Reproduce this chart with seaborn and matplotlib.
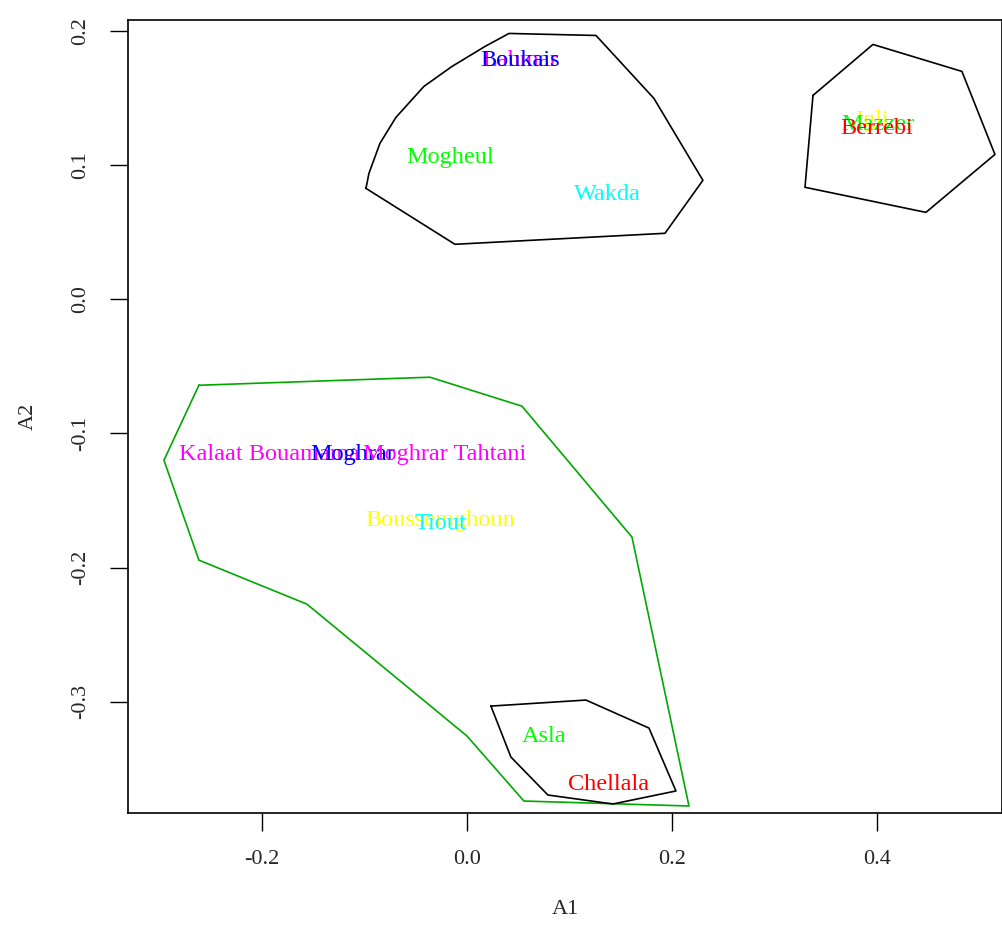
import matplotlib
matplotlib.use("Agg")
import matplotlib.pyplot as plt
import seaborn as sns
import pandas as pd

# site labels (ordination scores) and their colours
sites = ["Lahmar", "Boukais", "Mogheul", "Wakda", "Igli", "Mazzer", "Berrebi",
         "Kalaat Bouamama", "Moghrar", "Moghrar Tahtani", "Boussemghoun", "Tiout",
         "Asla", "Chellala"]
a1 = [0.052, 0.052, -0.016, 0.137, 0.395, 0.401, 0.400,
      -0.193, -0.111, -0.022, -0.026, -0.026, 0.075, 0.138]
a2 = [0.178, 0.178, 0.106, 0.078, 0.133, 0.130, 0.127,
      -0.116, -0.116, -0.116, -0.165, -0.167, -0.326, -0.362]
site_colors = ["magenta", "blue", "lime", "cyan", "yellow", "lime", "red",
               "magenta", "blue", "magenta", "yellow", "cyan", "lime", "red"]

# hull outlines
hull_top_x = [-0.0985, -0.0956, -0.0849, -0.0693, -0.0420, -0.0146, 0.0176, 0.0410,
              0.1259, 0.1824, 0.2302, 0.1932, -0.0117]
hull_top_y = [0.0827, 0.0939, 0.1162, 0.1356, 0.1587, 0.1736, 0.1885, 0.1982,
              0.1967, 0.1498, 0.0887, 0.0492, 0.0410]
hull_right_x = [0.3376, 0.3961, 0.4829, 0.5151, 0.4478, 0.3298]
hull_right_y = [0.1520, 0.1900, 0.1699, 0.1080, 0.0648, 0.0835]
hull_big_x = [-0.2615, -0.0361, 0.0537, 0.1610, 0.2166, 0.0556, 0.0,
              -0.1561, -0.2615, -0.2956]
hull_big_y = [-0.0641, -0.0581, -0.0797, -0.1773, -0.3778, -0.3741, -0.3256,
              -0.2273, -0.1945, -0.1200]
hull_small_x = [0.0234, 0.1161, 0.1776, 0.2039, 0.1424, 0.0790, 0.0429]
hull_small_y = [-0.3033, -0.2988, -0.3197, -0.3666, -0.3763, -0.3696, -0.3413]

sns.set_style("white")
plt.rcParams['font.family'] = ['Liberation Serif', 'DejaVu Serif']

fig = plt.figure(figsize=(10.02, 9.32), dpi=100)
ax = fig.add_axes([0.1277, 0.1277, 0.8723, 0.8508])

hulls = [(hull_top_x, hull_top_y, "black"),
         (hull_right_x, hull_right_y, "black"),
         (hull_big_x, hull_big_y, "#00a800"),
         (hull_small_x, hull_small_y, "black")]
for hx, hy, col in hulls:
    df = pd.DataFrame({"x": hx + hx[:1], "y": hy + hy[:1]})
    sns.lineplot(data=df, x="x", y="y", sort=False, estimator=None,
                 color=col, linewidth=1.2, ax=ax)

for name, x, y, c in zip(sites, a1, a2, site_colors):
    ax.text(x, y, name, color=c, fontsize=17.5, ha="center", va="center")

ax.set_xlim(-0.3307, 0.522)
ax.set_ylim(-0.383, 0.2082)
ax.set_xticks([-0.2, 0.0, 0.2, 0.4])
ax.set_xticklabels(["-0.2", "0.0", "0.2", "0.4"])
ax.set_yticks([-0.3, -0.2, -0.1, 0.0, 0.1, 0.2])
ax.set_yticklabels(["-0.3", "-0.2", "-0.1", "0.0", "0.1", "0.2"], rotation=90, va="center")
ax.tick_params(axis="both", direction="out", length=13, width=1, pad=14,
               labelsize=16, color="black", bottom=True, left=True)
for s in ax.spines.values():
    s.set_color("black")
    s.set_linewidth(1.2)
ax.set_xlabel("A1", fontsize=16, labelpad=22)
ax.set_ylabel("A2", fontsize=16, labelpad=24)

fig.savefig("out.png", dpi=100)
